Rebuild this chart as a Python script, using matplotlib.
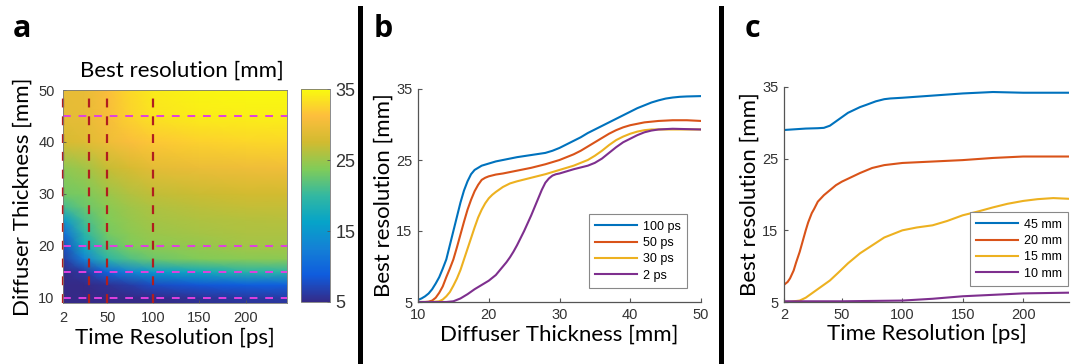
import numpy as np
import matplotlib
matplotlib.use("Agg")
import matplotlib.pyplot as plt
from matplotlib.colors import LinearSegmentedColormap
from matplotlib.lines import Line2D

# ---- data ----
# panel a: best resolution [mm] on a coarse grid (thickness x time resolution)
heat_time = [2, 25, 50, 75, 100, 150, 200, 245]
heat_thick = [9, 10, 12.5, 15, 17.5, 20, 22.5, 25, 27.5, 30, 35, 40, 45, 50]
heat_res = [
    [5.0, 5.0, 5.0, 5.0, 5.1, 5.5, 5.9, 6.0],
    [5.0, 5.0, 5.05, 5.1, 5.2, 5.8, 6.2, 6.3],
    [5.0, 5.0, 5.6, 6.5, 7.6, 8.5, 9.0, 9.2],
    [5.1, 6.2, 9.6, 12.9, 15.0, 17.1, 19.1, 19.4],
    [6.4, 12.5, 19.5, 21.5, 22.8, 23.8, 24.2, 24.3],
    [7.8, 17.4, 21.8, 23.7, 24.4, 24.8, 25.3, 25.3],
    [10.6, 19.5, 23.2, 24.3, 25.0, 25.4, 25.8, 25.8],
    [15.0, 21.0, 23.7, 24.8, 25.5, 25.9, 26.2, 26.3],
    [20.8, 22.6, 24.2, 25.2, 25.9, 26.5, 26.8, 26.9],
    [23.1, 23.4, 25.0, 26.0, 26.7, 27.2, 27.5, 27.6],
    [24.4, 25.2, 27.0, 28.0, 29.1, 29.7, 30.0, 30.1],
    [28.0, 28.6, 29.9, 31.0, 31.8, 32.4, 32.7, 32.8],
    [29.2, 29.3, 30.7, 32.5, 33.5, 34.1, 34.2, 34.2],
    [29.3, 29.4, 30.8, 32.8, 34.0, 34.6, 34.8, 34.8],
]
vlines_time = [2, 30, 50, 100]
hlines_thick = [10, 15, 20, 45]

# panel b: best resolution vs diffuser thickness
b_thick_100 = [10, 10.5, 11, 11.5, 12, 12.5, 13, 13.5, 14, 14.5, 15, 15.5, 16, 16.5, 17, 17.5,
               18, 18.5, 19, 19.5, 20, 21, 22, 24, 26, 28, 29, 30, 31, 32, 33, 34, 35, 36, 37,
               38, 39, 40, 41, 42, 43, 44, 45, 46, 47, 48, 50]
b_res_100 = [5.3, 5.5, 5.8, 6.2, 6.8, 7.6, 8.5, 9.7, 11, 13, 15, 17, 19, 20.7, 22, 23,
             23.6, 23.9, 24.2, 24.35, 24.5, 24.8, 25, 25.4, 25.7, 26, 26.3, 26.7, 27.2, 27.7, 28.2, 28.8, 29.3, 29.8, 30.3,
             30.8, 31.3, 31.8, 32.3, 32.7, 33.1, 33.4, 33.65, 33.8, 33.9, 33.95, 34]
b_thick_50 = [10, 11, 11.5, 12, 12.5, 13, 13.5, 14, 14.5, 15, 15.5, 16, 16.5, 17, 17.5, 18,
              18.5, 19, 19.5, 20, 21, 22, 24, 26, 28, 29, 30, 31, 32, 33, 34, 35, 36, 37, 38,
              39, 40, 41, 42, 43, 44, 46, 48, 50]
b_res_50 = [5, 5, 5.05, 5.2, 5.6, 6.3, 7.2, 8.5, 9.7, 11, 12.7, 14.5, 16.3, 18, 19.4, 20.6,
            21.5, 22.2, 22.5, 22.7, 22.95, 23.1, 23.5, 23.9, 24.4, 24.7, 25, 25.4, 25.8, 26.3, 26.9, 27.5, 28.1, 28.7, 29.2,
            29.6, 29.9, 30.1, 30.3, 30.4, 30.5, 30.6, 30.6, 30.5]
b_thick_30 = [10, 12, 13, 13.5, 14, 14.5, 15, 15.5, 16, 16.5, 17, 17.5, 18, 18.5, 19, 19.5,
              20, 20.5, 21, 22, 23, 24, 26, 28, 30, 32, 33, 34, 35, 36, 37, 38, 39, 40, 41,
              42, 43, 44, 46, 50]
b_res_30 = [5, 5, 5.1, 5.35, 5.8, 6.4, 7.3, 8.3, 9.5, 11, 12.5, 14, 15.5, 16.9, 18, 18.9,
            19.6, 20.1, 20.5, 21.2, 21.7, 22, 22.5, 23, 23.6, 24.2, 24.6, 25, 25.6, 26.3, 27.1, 27.8, 28.3, 28.7, 29,
            29.2, 29.3, 29.3, 29.3, 29.3]
b_thick_2 = [10, 14, 15, 16, 17, 18, 19, 20, 21, 22, 22.5, 23, 23.5, 24, 24.5, 25, 25.5, 26,
             26.5, 27, 27.5, 28, 28.5, 29, 29.5, 30, 31, 32, 33, 34, 35, 36, 37, 38, 39, 40,
             41, 42, 43, 44, 45, 46, 50]
b_res_2 = [5, 5, 5.1, 5.5, 6.1, 6.8, 7.4, 8, 8.8, 10, 10.6, 11.3, 12.1, 13, 14, 15, 16.1, 17.2,
           18.4, 19.6, 20.8, 21.8, 22.4, 22.8, 23, 23.1, 23.4, 23.7, 23.95, 24.2, 24.6, 25.2, 26, 26.8, 27.5, 28,
           28.5, 28.9, 29.15, 29.3, 29.35, 29.4, 29.3]
b_labels = ["100 ps", "50 ps", "30 ps", "2 ps"]

# panel c: best resolution vs time resolution
c_time_45 = [2, 20, 30, 35, 40, 45, 50, 55, 60, 65, 70, 78, 85, 90, 100, 125, 150, 175, 200, 238]
c_res_45 = [29.0, 29.2, 29.25, 29.3, 29.6, 30.2, 30.8, 31.4, 31.8, 32.2, 32.5, 33.0, 33.3, 33.4, 33.5,
            33.8, 34.1, 34.3, 34.2, 34.2]
c_time_20 = [2, 5, 7, 10, 12, 15, 17, 20, 22, 25, 27, 30, 35, 40, 45, 50, 55, 60, 65, 75, 85,
             100, 125, 150, 175, 200, 238]
c_res_20 = [7.4, 7.8, 8.3, 9.4, 10.5, 12, 13.2, 15, 16.1, 17.4, 18.0, 19, 19.9, 20.6, 21.3, 21.8,
            22.2, 22.6, 23.0, 23.7, 24.1, 24.4, 24.6, 24.8, 25.1, 25.3, 25.3]
c_time_15 = [2, 8, 15, 20, 25, 30, 35, 40, 47, 55, 65, 75, 85, 100, 112, 125, 137, 150, 162,
             175, 187, 200, 212, 225, 238]
c_res_15 = [5.0, 5.05, 5.2, 5.6, 6.2, 6.8, 7.4, 8.0, 9.1, 10.4, 11.8, 12.9, 14.0, 15.0, 15.4,
            15.7, 16.3, 17.1, 17.6, 18.2, 18.7, 19.1, 19.35, 19.5, 19.4]
c_time_10 = [2, 50, 75, 100, 125, 150, 175, 200, 238]
c_res_10 = [5.1, 5.1, 5.15, 5.2, 5.45, 5.8, 6.0, 6.2, 6.3]
c_labels = ["45 mm", "20 mm", "15 mm", "10 mm"]

# ---- style ----
W, H = 1078, 364
colors = ["#0072BD", "#D95319", "#EDB120", "#7E2F8E"]
parula = LinearSegmentedColormap.from_list("parula", [
    (0.000, (0.2081, 0.1663, 0.5292)),
    (0.125, (0.0592, 0.3598, 0.8683)),
    (0.250, (0.0780, 0.5041, 0.8384)),
    (0.375, (0.0232, 0.6407, 0.7860)),
    (0.500, (0.1986, 0.7214, 0.6310)),
    (0.625, (0.5044, 0.7993, 0.3480)),
    (0.750, (0.8185, 0.7327, 0.1882)),
    (0.875, (0.9932, 0.7439, 0.2394)),
    (1.000, (0.9763, 0.9831, 0.0538)),
])
tick_font = "Liberation Sans"
label_font = "Lato"
axcol = "#555555"


def px_axes(fig, x0, y0, x1, y1):
    return fig.add_axes([x0 / W, 1 - y1 / H, (x1 - x0) / W, (y1 - y0) / H])


def style_line_axes(ax):
    for s in ["top", "right"]:
        ax.spines[s].set_visible(False)
    for s in ["left", "bottom"]:
        ax.spines[s].set_color(axcol)
        ax.spines[s].set_linewidth(0.9)
    ax.tick_params(direction="in", length=3, width=0.8, color=axcol,
                   labelsize=10.5, labelcolor="#333333", pad=4)
    for lab in ax.get_xticklabels() + ax.get_yticklabels():
        lab.set_fontfamily(tick_font)


def add_legend(ax, anchor):
    leg = ax.legend(loc="lower right", bbox_to_anchor=anchor, fancybox=False,
                    edgecolor="#888888", framealpha=1, handlelength=3.3,
                    prop={"family": tick_font, "size": 9}, borderpad=0.5,
                    labelspacing=0.35, handletextpad=0.5, borderaxespad=0)
    leg.get_frame().set_linewidth(0.8)
    return leg


fig = plt.figure(figsize=(W / 100, H / 100), dpi=100)

# ---- panel a ----
ax_a = px_axes(fig, 63, 90, 287, 303)
mesh = ax_a.pcolormesh(heat_time, heat_thick, np.array(heat_res), shading="gouraud",
                       cmap=parula, vmin=5, vmax=35)
for t in vlines_time:
    ax_a.axvline(t, color="#B01E1E", ls=(0, (4, 4)), lw=1.6, clip_on=False)
for d in hlines_thick:
    ax_a.axhline(d, color="#E040E0", ls=(0, (4, 4)), lw=1.4)
ax_a.set_xlim(2, 245)
ax_a.set_ylim(9, 50)
ax_a.set_xticks([2, 50, 100, 150, 200])
ax_a.set_yticks([10, 20, 30, 40, 50])
ax_a.tick_params(direction="in", length=2, width=0.6, color=axcol,
                 labelsize=10.5, labelcolor="#333333", pad=6)
for lab in ax_a.get_xticklabels() + ax_a.get_yticklabels():
    lab.set_fontfamily(tick_font)
for s in ax_a.spines.values():
    s.set_color("#777777")
    s.set_linewidth(0.6)
ax_a.set_xlabel("Time Resolution [ps]", fontsize=16, family=label_font, labelpad=2)
ax_a.set_ylabel("Diffuser Thickness [mm]", fontsize=16, family=label_font, labelpad=4)
fig.text(182 / W, 1 - 77 / H, "Best resolution [mm]", fontsize=16, family=label_font,
         ha="center", va="baseline")

cax = px_axes(fig, 301, 89, 330, 302)
cb = fig.colorbar(mesh, cax=cax, ticks=[5, 15, 25, 35])
cb.outline.set_edgecolor("#777777")
cb.outline.set_linewidth(0.6)
cax.tick_params(direction="in", length=2, width=0.6, color=axcol, labelsize=13,
                labelcolor="#333333", pad=4)
for lab in cax.get_yticklabels():
    lab.set_fontfamily(tick_font)

# ---- panel b ----
ax_b = px_axes(fig, 418, 89, 701, 302)
b_series = [(b_thick_100, b_res_100), (b_thick_50, b_res_50),
            (b_thick_30, b_res_30), (b_thick_2, b_res_2)]
for (x, y), c, lab in zip(b_series, colors, b_labels):
    ax_b.plot(x, y, color=c, lw=1.5, label=lab, solid_joinstyle="round")
ax_b.set_xlim(10, 50)
ax_b.set_ylim(5, 35)
ax_b.set_xticks([10, 20, 30, 40, 50])
ax_b.set_yticks([5, 15, 25, 35])
style_line_axes(ax_b)
ax_b.set_xlabel("Diffuser Thickness [mm]", fontsize=16, family=label_font, labelpad=2)
ax_b.set_ylabel("Best resolution [mm]", fontsize=16, family=label_font, labelpad=2)
add_legend(ax_b, ((687 - 418) / 283, (302 - 288) / 213))

# ---- panel c ----
ax_c = px_axes(fig, 784, 87, 1069, 302)
c_series = [(c_time_45, c_res_45), (c_time_20, c_res_20),
            (c_time_15, c_res_15), (c_time_10, c_res_10)]
for (x, y), c, lab in zip(c_series, colors, c_labels):
    ax_c.plot(x, y, color=c, lw=1.5, label=lab, solid_joinstyle="round")
ax_c.set_xlim(2, 238)
ax_c.set_ylim(5, 35)
ax_c.set_xticks([2, 50, 100, 150, 200])
ax_c.set_yticks([5, 15, 25, 35])
style_line_axes(ax_c)
ax_c.set_xlabel("Time Resolution [ps]", fontsize=16, family=label_font, labelpad=2)
ax_c.set_ylabel("Best resolution [mm]", fontsize=16, family=label_font, labelpad=2)
add_legend(ax_c, ((1068 - 784) / 285, (302 - 286) / 215))

# ---- separators and panel letters ----
for xs in [360, 721]:
    fig.add_artist(Line2D([xs / W, xs / W], [0, 1 - 8 / H], color="black", lw=3.6,
                          transform=fig.transFigure))
for x, lab in [(13, "a"), (374, "b"), (745, "c")]:
    fig.text(x / W, 1 - 37 / H, lab, fontsize=22, fontweight="bold", family="Open Sans",
             va="baseline", ha="left")

fig.savefig("out.png", dpi=100, facecolor="white")
